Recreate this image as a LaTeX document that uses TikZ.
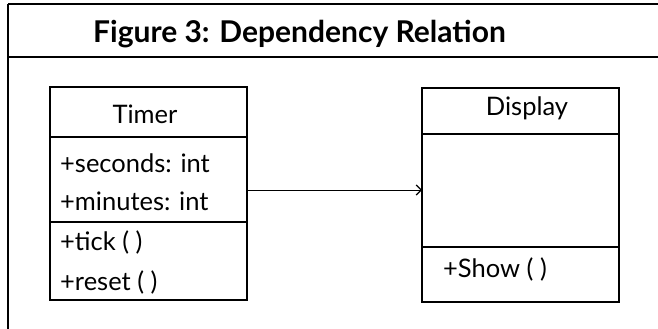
\documentclass[tikz,border=0pt]{standalone}
\usepackage{fontspec}
\setmainfont{Lato}
\usetikzlibrary{arrows.meta}
\tikzset{
  frameline/.style={line width=1.6pt, black},
  boxline/.style={line width=1.4pt, black},
  classbox/.style={draw, line width=1.4pt, inner sep=0pt, outer sep=0pt, anchor=north west},
  member/.style={anchor=base west, inner sep=0pt, font=\fontsize{25.5}{28}\selectfont},
  cname/.style={anchor=base, inner sep=0pt, font=\fontsize{25.5}{28}\selectfont},
  dep/.style={line width=1pt, -{Straight Barb[length=5pt,width=10pt,line width=1.2pt]}}
}
\begin{document}
\begin{tikzpicture}[x=1pt,y=-1pt]
\useasboundingbox (0,0) rectangle (658,329);
% frame
\coordinate (ftl) at (8,4);
\coordinate (ftr) at (658,4);
\coordinate (fbl) at (8,329);
\coordinate (fsl) at (8,57);
\coordinate (fsr) at (658,57);
\draw[frameline] (ftr) -- (ftl);
\draw[line width=2.4pt] (ftl) -- (fbl);
\draw[frameline] (fsl) -- (fsr);
\node[anchor=base west, inner sep=0pt, font=\bfseries\fontsize{30}{33}\selectfont] (title) at (93,42) {Figure 3: Dependency Relation};
% Timer class
\node[classbox, minimum width=197pt, minimum height=213pt] (timer) at (50,87) {};
\coordinate (t1l) at (50,137); \coordinate (t1r) at (247,137);
\coordinate (t2l) at (50,222); \coordinate (t2r) at (247,222);
\draw[boxline] (t1l) -- (t1r);
\draw[boxline] (t2l) -- (t2r);
\node[cname] (timername) at (145,123) {Timer};
\node[member] (tsec) at (60,172) {+seconds: int};
\node[member] (tmin) at (60,210) {+minutes: int};
\node[member] (ttick) at (60,250) {+tick ( )};
\node[member] (treset) at (60,290) {+reset ( )};
% Display class
\node[classbox, minimum width=197pt, minimum height=214pt] (display) at (422,88) {};
\coordinate (d1l) at (422,134); \coordinate (d1r) at (619,134);
\coordinate (d2l) at (422,247); \coordinate (d2r) at (619,247);
\draw[boxline] (d1l) -- (d1r);
\draw[boxline] (d2l) -- (d2r);
\node[cname] (displayname) at (527,115) {Display};
\node[member] (dshow) at (443,277) {+Show ( )};
% dependency
\draw[dep] (timer.east |- 0,190) -- (display.west |- 0,190);
\end{tikzpicture}
\end{document}
